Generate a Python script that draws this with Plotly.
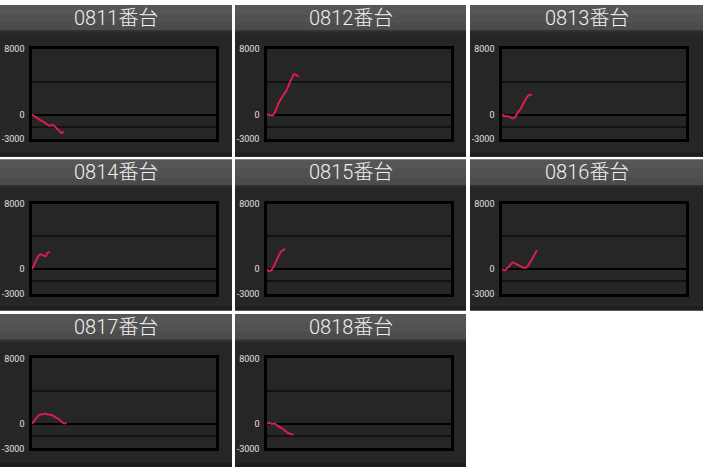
import plotly.graph_objects as go

# 台番号
machines = ["0811", "0812", "0813", "0814", "0815", "0816", "0817", "0818"]

# ゲーム数 と 差枚数
games_0811 = [0, 200, 490, 780, 890, 990, 1180, 1280, 1380]
coins_0811 = [0, -380, -900, -1380, -1260, -1460, -1980, -2260, -2060]

games_0812 = [0, 140, 260, 360, 510, 720, 860, 1010, 1180, 1300, 1400]
coins_0812 = [0, -80, -80, 400, 1410, 2420, 3020, 4030, 4920, 4760, 4640]

games_0813 = [0, 120, 260, 460, 570, 690, 790, 940, 1080, 1180, 1300]
coins_0813 = [0, -200, -200, -480, -320, 280, 600, 1410, 2100, 2420, 2380]

games_0814 = [0, 120, 260, 360, 480, 590, 690, 790]
coins_0814 = [0, 690, 1500, 1830, 1700, 1580, 2030, 2110]

games_0815 = [0, 90, 190, 330, 480, 620, 790]
coins_0815 = [0, -240, -120, 560, 1490, 2170, 2490]

games_0816 = [0, 120, 260, 480, 690, 910, 1050, 1120, 1340, 1520]
coins_0816 = [0, -120, 200, 810, 525, 200, 200, 400, 1410, 2300]

games_0817 = [0, 140, 330, 430, 570, 720, 860, 1010, 1150, 1300, 1400, 1510]
coins_0817 = [0, 525, 1130, 1130, 1250, 1130, 1090, 810, 605, 240, 40, 120]

games_0818 = [0, 70, 190, 290, 360, 430, 570, 720, 860, 1010, 1150]
coins_0818 = [0, 120, 0, 0, 0, -200, -405, -690, -1015, -1220, -1340]

games = [games_0811, games_0812, games_0813, games_0814,
         games_0815, games_0816, games_0817, games_0818]
coins = [coins_0811, coins_0812, coins_0813, coins_0814,
         coins_0815, coins_0816, coins_0817, coins_0818]

y_ticks = [8000, 4000, 0, -1500, -3000]
y_labels = ["8000", "", "0", "", "-3000"]

W, H = 703, 472
col_x = [(0, 232), (235, 466), (470, 703)]
row_y = [(0, 155), (158, 312), (316, 472)]


def px(x):
    return x / W


def py(y):
    return 1 - y / H


def rect(x0, x1, y0, y1, color):
    return dict(type="rect", xref="paper", yref="paper", layer="below",
                x0=px(x0), x1=px(x1), y0=py(y1), y1=py(y0),
                fillcolor=color, line_width=0)


fig = go.Figure()
shapes = []
annotations = []

for i, name in enumerate(machines):
    r, c = divmod(i, 3)
    x0, x1 = col_x[c]
    y0, y1 = row_y[r]
    n = "" if i == 0 else str(i + 1)

    # パネル背景
    shapes.append(rect(x0, x1, y0, y1, "#262626"))
    shapes.append(rect(x0, x1, y1 - 4, y1, "#1e1e1e"))
    # ヘッダー (重ねてグラデーション風に)
    hh = 26
    shapes.append(rect(x0, x1, y0, y0 + hh, "#4c4c4c"))
    shapes.append(rect(x0, x1, y0, y0 + hh * 0.7, "#515151"))
    shapes.append(rect(x0, x1, y0, y0 + hh * 0.35, "#565656"))
    shapes.append(rect(x0, x1, y0 + hh, y0 + hh + 2, "#303030"))

    annotations.append(dict(text=name + "番台", xref="paper", yref="paper",
                            x=px((x0 + x1) / 2), y=py(y0 + 13), showarrow=False,
                            xanchor="center", yanchor="middle",
                            font=dict(size=20, color="#f0f0f0", weight=300,
                                      family="Roboto, Noto Sans CJK JP")))

    fig.add_trace(go.Scatter(
        x=games[i], y=coins[i], mode="lines",
        line=dict(color="#d81e4c", width=2, shape="spline", smoothing=0.6),
        xaxis="x" + n, yaxis="y" + n, showlegend=False, hoverinfo="skip"))

    fx0, fx1 = x0 + 32, x0 + 216
    fy0, fy1 = y0 + 45, y0 + 137
    fig.layout["xaxis" + n] = dict(
        domain=[px(fx0), px(fx1)], range=[0, 8000], anchor="y" + n,
        showgrid=False, zeroline=False, showticklabels=False, ticks="",
        showline=True, linecolor="#000000", linewidth=2.5, mirror=True,
        fixedrange=True)
    fig.layout["yaxis" + n] = dict(
        domain=[py(fy1), py(fy0)], range=[-3000, 8000], anchor="x" + n,
        tickvals=y_ticks, ticktext=y_labels,
        tickfont=dict(size=9, color="#e0e0e0", family="Roboto"),
        ticks="outside", ticklen=3, tickcolor="rgba(0,0,0,0)",
        showgrid=True, gridcolor="#121212", gridwidth=1.5,
        zeroline=True, zerolinecolor="#000000", zerolinewidth=2,
        showline=True, linecolor="#000000", linewidth=2.5, mirror=True,
        fixedrange=True)

fig.update_layout(
    width=W, height=H,
    margin=dict(l=0, r=0, t=0, b=0),
    paper_bgcolor="#ffffff",
    plot_bgcolor="#262626",
    shapes=shapes,
    annotations=annotations,
)

fig.write_html("out.html", config={"displayModeBar": False},
               post_script="document.body.style.margin='0';")
